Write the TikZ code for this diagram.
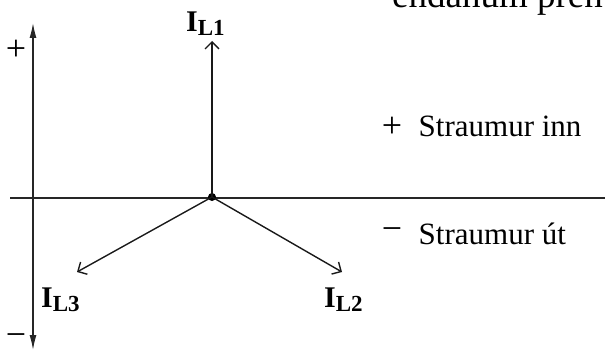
\documentclass[tikz,border=0pt]{standalone}
\usepackage{fontspec}
\setmainfont{Liberation Serif}
\usetikzlibrary{arrows.meta}
\newcommand{\curlab}[1]{{\fontsize{30}{34}\selectfont\bfseries I}\raisebox{-4pt}{\fontsize{23}{26}\selectfont\bfseries L#1}}
\begin{document}
\begin{tikzpicture}[x=1pt,y=-1pt,
  axisline/.style={line width=1.4pt,color=black!85},
  phasor/.style={line width=1.4pt,color=black!90,-{Straight Barb[length=7pt,width=14pt,line width=1.4pt]}},
  bigtext/.style={inner sep=0pt,anchor=base west,font=\fontsize{31}{37}\selectfont},
  signtext/.style={inner sep=0pt,anchor=base,text depth=0pt,font=\fontsize{36}{40}\selectfont},
  curtext/.style={inner sep=0pt,anchor=base west}]
\useasboundingbox (0,0) rectangle (605,350);
\clip (0,0) rectangle (605,350);
% cut-off heading text
\node[inner sep=0pt,anchor=base west,font=\fontsize{37}{44}\selectfont] (head) at (392,8) {endanum prent};
% axes
\coordinate (vtop) at (33,23);
\coordinate (vbot) at (33,350);
\coordinate (hl) at (10,198);
\coordinate (hr) at (606,198);
\draw[axisline,{Latex[length=15pt,width=7pt]}-{Latex[length=15pt,width=7pt]}] (vbot) -- (vtop);
\draw[axisline] (hl) -- (hr);
\node[signtext] (plusL) at (16,61) {+};
\node[signtext] (minusL) at (16,346) {−};
% centre dot and phasors
\node[circle,fill=black,inner sep=0pt,minimum size=8pt] (o) at (212,197) {};
\coordinate (t1) at (212,41);
\coordinate (t2) at (342,272);
\coordinate (t3) at (77,272);
\draw[phasor] (o.center) -- (t1);
\draw[phasor] (o.center) -- (t2);
\draw[phasor] (o.center) -- (t3);
\node[curtext] (l1) at (186,32) {\curlab{1}};
\node[curtext] (l2) at (324,307) {\curlab{2}};
\node[curtext] (l3) at (41,307) {\curlab{3}};
% legend
\node[signtext] (plusR) at (392,138) {+};
\node[bigtext] (inn) at (418.5,137) {Straumur inn};
\node[signtext] (minusR) at (392,240) {−};
\node[bigtext] (ut) at (418.5,244) {Straumur út};
\end{tikzpicture}
\end{document}
